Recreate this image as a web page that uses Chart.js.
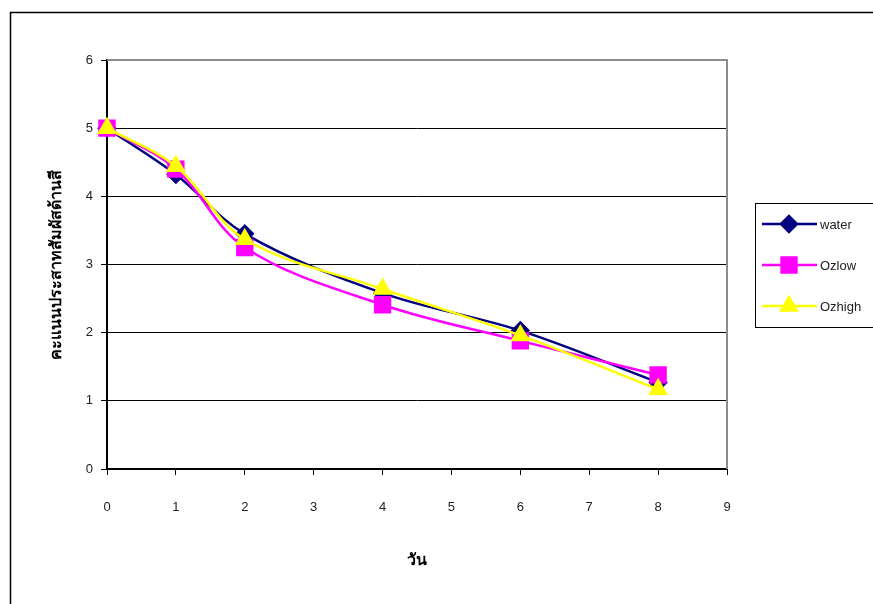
<!DOCTYPE html>
<html>
<head>
<meta charset="utf-8">
<script src="https://cdn.jsdelivr.net/npm/chart.js@4.4.1/dist/chart.umd.min.js"></script>
<style>
  html, body { margin: 0; padding: 0; background: #fff; }
  #wrap { width: 873px; height: 604px; }
</style>
</head>
<body>
<div id="wrap"><canvas id="c" width="873" height="604"></canvas></div>
<script>
// Days of storage and sensory colour scores
const days = [0, 1, 2, 4, 6, 8];
const water = [5.00, 4.32, 3.45, 2.58, 2.03, 1.27];
const ozLow = [5.00, 4.40, 3.25, 2.41, 1.88, 1.38];
const ozHigh = [5.00, 4.44, 3.37, 2.64, 1.96, 1.17];
const seriesNames = ['water', 'Ozlow', 'Ozhigh'];
const xTitle = 'วัน';
const yTitle = 'คะแนนประสาทสัมผัสด้านสี';

const FONT = '"Liberation Sans", Arial, "Noto Sans", sans-serif';

function toPoints(ys) { return days.map((d, i) => ({ x: d, y: ys[i] })); }

// page frame, plot-area border
const framePlugin = {
  id: 'frame',
  beforeDraw(chart) {
    const ctx = chart.ctx;
    ctx.save();
    ctx.strokeStyle = '#000';
    ctx.lineWidth = 1.5;
    ctx.strokeRect(10.5, 12.5, 900, 700);
    ctx.restore();
  },
  beforeDatasetsDraw(chart) {
    const a = chart.chartArea, ctx = chart.ctx;
    ctx.save();
    ctx.strokeStyle = '#8c8c8c';
    ctx.lineWidth = 2;
    ctx.beginPath();
    ctx.moveTo(a.left, a.top);
    ctx.lineTo(a.right, a.top);
    ctx.lineTo(a.right, a.bottom);
    ctx.stroke();
    ctx.restore();
  }
};

// boxed legend on the right
const boxLegend = {
  id: 'boxLegend',
  afterDraw(chart) {
    const ctx = chart.ctx;
    ctx.save();
    ctx.strokeStyle = '#000';
    ctx.lineWidth = 1;
    ctx.strokeRect(755.5, 203.5, 130, 124);
    const rows = [224, 265, 306];
    chart.data.datasets.forEach((ds, i) => {
      const y = rows[i];
      ctx.strokeStyle = ds.borderColor;
      ctx.lineWidth = 2.5;
      ctx.beginPath();
      ctx.moveTo(762, y);
      ctx.lineTo(817, y);
      ctx.stroke();
      Chart.helpers.drawPoint(ctx, {
        pointStyle: ds.pointStyle,
        radius: ds.pointRadius,
        rotation: 0,
        borderWidth: 1
      }, 789, y);
      ctx.fillStyle = ds.pointBackgroundColor;
      ctx.strokeStyle = ds.pointBorderColor;
      ctx.lineWidth = 1;
      ctx.fill();
      ctx.stroke();
      ctx.fillStyle = '#222';
      ctx.font = '13px ' + FONT;
      ctx.textAlign = 'left';
      ctx.textBaseline = 'middle';
      ctx.fillText(ds.label, 820, y + 1);
    });
    ctx.restore();
  }
};

const mk = (label, data, color, style, r, order) => ({
  label,
  data: toPoints(data),
  borderColor: color,
  backgroundColor: color,
  pointBackgroundColor: color,
  pointBorderColor: color,
  pointStyle: style,
  pointRadius: r,
  pointHoverRadius: r,
  borderWidth: 2.5,
  tension: 0.35,
  clip: false,
  order
});

new Chart(document.getElementById('c'), {
  type: 'line',
  data: {
    datasets: [
      mk(seriesNames[0], water, '#000080', 'rectRot', 8, 3),
      mk(seriesNames[1], ozLow, '#ff00ff', 'rect', 10.5, 2),
      mk(seriesNames[2], ozHigh, '#ffff00', 'triangle', 9, 1)
    ]
  },
  options: {
    responsive: false,
    animation: false,
    events: [],
    layout: { padding: { left: 0, top: 60, right: 146, bottom: 0 } },
    plugins: { legend: { display: false }, tooltip: { enabled: false } },
    scales: {
      x: {
        type: 'linear',
        min: 0, max: 9,
        afterFit(s) { s.height = 135; },
        ticks: { stepSize: 1, color: '#222', padding: 25, font: { family: FONT, size: 13 } },
        grid: { drawOnChartArea: false, drawTicks: true, tickLength: 6, color: '#000', lineWidth: 1 },
        border: { color: '#000', width: 2 },
        title: { display: true, text: xTitle, color: '#000', font: { family: FONT, size: 16, weight: 'bold' }, padding: { top: 0, bottom: 34 } }
      },
      y: {
        min: 0, max: 6,
        afterFit(s) { s.width = 107; },
        ticks: { stepSize: 1, color: '#222', padding: 8, font: { family: FONT, size: 13 } },
        grid: { color: '#000', lineWidth: 1, tickLength: 6 },
        border: { color: '#000', width: 2 },
        title: { display: true, text: yTitle, color: '#000', font: { family: FONT, size: 16, weight: 'bold' }, padding: { top: 47, bottom: 0 } }
      }
    }
  },
  plugins: [framePlugin, boxLegend]
});
</script>
</body>
</html>
